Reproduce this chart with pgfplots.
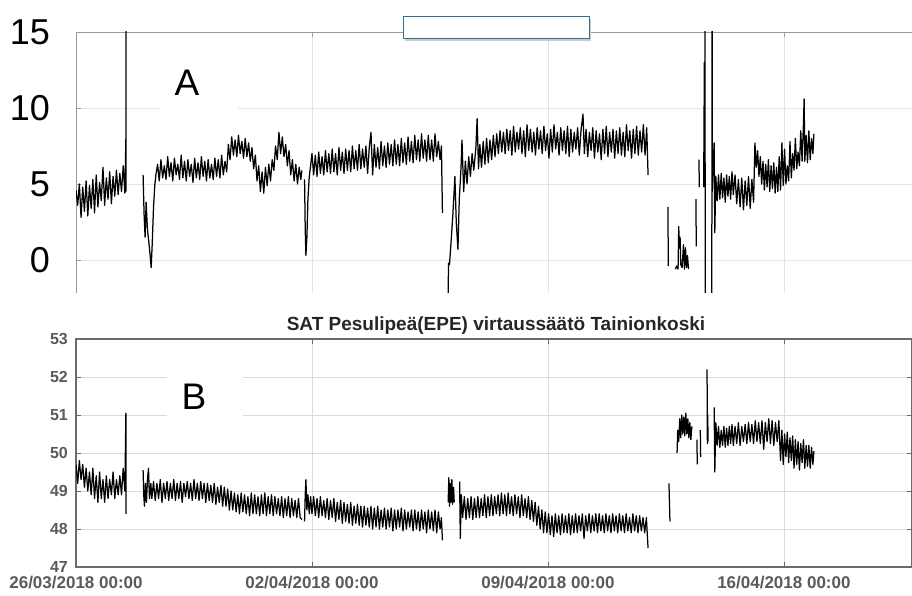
\documentclass[border=0pt]{standalone}
\usepackage{fontspec}
\setmainfont{Liberation Sans}
\usepackage{pgfplots}
\pgfplotsset{compat=1.18}
\definecolor{tickgray}{HTML}{5A5A5A}
\definecolor{gridA}{HTML}{E4E4E4}
\definecolor{gridB}{HTML}{DADADA}
\definecolor{frameB}{HTML}{6A6A6A}
\definecolor{frameA}{HTML}{9A9A9A}
\definecolor{boxblue}{HTML}{2F6F8F}
\pgfplotsset{data/.style={black, line width=1.25pt, mark=none, line join=round}}
\begin{document}
\begin{tikzpicture}
\path[use as bounding box] (0pt,0pt) rectangle (912pt,595pt);
% ---------------- Panel A ----------------
\begin{axis}[
 at={(76pt,302pt)}, anchor=south west, scale only axis, width=836pt, height=261pt,
 xmin=0, xmax=24.8, ymin=-2.17, ymax=15,
 axis x line*=top, axis y line*=left,
 axis line style={draw=frameA, line width=0.8pt, -},
 xtick={7,14,21}, xticklabels={},
 ytick={0,5,10,15},
 grid=major, major grid style={draw=gridA, line width=0.7pt},
 tick align=inside, major tick length=5pt, tick style={draw=frameA, line width=0.6pt},
 /pgf/number format/assume math mode=true,
 yticklabel style={font=\fontsize{36}{40}\selectfont, text=black, inner sep=0pt, xshift=-26pt},
]
\addplot[data] coordinates {(0.00,4.6)(0.05,3.6)(0.10,5.0)(0.15,2.8)(0.20,4.8)(0.25,3.2)(0.30,5.2)(0.35,2.9)(0.40,4.9)(0.45,3.4)(0.50,5.3)(0.55,3.1)(0.60,5.6)(0.65,3.5)(0.70,5.1)(0.75,3.9)(0.80,6.1)(0.85,3.6)(0.90,5.4)(0.95,4.0)(1.00,5.8)(1.05,3.7)(1.10,5.5)(1.15,4.2)(1.20,5.9)(1.25,4.3)(1.30,5.7)(1.35,4.5)(1.40,6.2)(1.45,4.4)(1.48,8.0)(1.48,16)(1.485,4.5)};
\addplot[data] coordinates {(1.99,5.6)(2.02,3.0)(2.05,1.5)(2.08,3.8)(2.12,2.0)(2.16,1.2)(2.20,0.3)(2.23,-0.5)(2.26,1.0)(2.30,3.5)(2.34,5.0)(2.37,5.6)
(2.42,6.3)(2.47,5.2)(2.52,6.6)(2.57,5.4)(2.62,6.2)(2.67,5.3)(2.72,6.8)(2.77,5.5)(2.82,6.4)(2.87,5.2)(2.92,6.7)(2.97,5.6)(3.02,6.3)(3.07,5.3)(3.12,6.9)(3.17,5.4)(3.22,6.5)(3.27,5.2)(3.32,6.6)(3.37,5.5)(3.42,6.3)(3.47,5.1)(3.52,6.7)(3.57,5.4)(3.62,6.4)(3.67,5.3)(3.72,6.8)(3.77,5.5)(3.82,6.5)(3.87,5.2)(3.92,6.6)(3.97,5.4)(4.02,6.3)(4.07,5.3)(4.12,6.7)(4.17,5.5)(4.22,6.6)(4.27,5.4)(4.32,6.9)(4.37,5.6)(4.42,6.5)(4.47,5.8)
(4.52,7.6)(4.57,6.6)(4.62,8.1)(4.67,6.9)(4.72,7.9)(4.77,6.8)(4.82,8.2)(4.87,7.0)(4.92,7.8)(4.97,6.7)(5.02,8.0)(5.07,6.8)(5.12,7.7)(5.17,6.5)(5.22,7.4)
(5.27,6.0)(5.32,6.9)(5.37,5.2)(5.42,6.2)(5.47,4.5)(5.52,5.8)(5.57,4.4)(5.62,6.1)(5.67,4.9)(5.72,6.3)(5.77,5.2)(5.82,6.6)
(5.87,5.9)(5.92,7.5)(5.97,6.6)(6.02,8.4)(6.07,7.0)(6.12,8.1)(6.17,6.8)(6.22,7.6)(6.27,6.2)(6.32,7.2)(6.37,5.6)(6.42,6.6)(6.47,5.2)(6.52,6.3)(6.57,5.0)(6.62,6.1)(6.67,5.3)(6.70,5.9)};
\addplot[data] coordinates {(6.78,5.3)(6.80,2.0)(6.82,0.3)(6.85,1.5)(6.88,4.0)(6.92,5.5)(6.96,6.2)
(7.00,7.0)(7.05,5.6)(7.10,6.9)(7.15,5.5)(7.20,7.1)(7.25,5.7)(7.30,6.8)(7.35,5.6)(7.40,7.2)(7.45,5.8)(7.50,7.0)(7.55,5.7)(7.60,7.3)(7.65,5.8)(7.70,7.0)(7.75,5.6)(7.80,7.4)(7.85,5.9)(7.90,7.1)(7.95,5.7)(8.00,7.3)(8.05,5.9)
(8.10,7.2)(8.15,5.8)(8.20,7.5)(8.25,6.0)(8.30,7.2)(8.35,5.9)(8.40,7.6)(8.45,6.0)(8.50,7.3)(8.55,6.1)(8.60,7.5)(8.65,5.7)(8.70,7.4)(8.75,8.4)(8.80,5.6)(8.85,7.6)(8.90,6.1)(8.95,7.4)(9.00,6.0)(9.05,7.8)(9.10,6.2)(9.15,7.5)(9.20,6.1)(9.25,7.7)(9.30,6.3)(9.35,7.6)(9.40,6.2)(9.45,7.9)(9.50,6.3)(9.55,7.6)(9.60,6.2)(9.65,8.0)(9.70,6.4)(9.75,7.7)(9.80,6.3)(9.85,8.1)(9.90,6.5)(9.95,7.8)(10.00,6.4)(10.05,8.2)(10.10,6.6)(10.15,7.9)(10.20,6.5)(10.25,8.3)(10.30,6.7)(10.35,7.9)(10.40,6.5)(10.45,8.2)(10.50,6.6)(10.55,7.9)(10.60,6.5)(10.65,8.3)(10.70,6.8)(10.75,7.8)(10.80,6.6)(10.84,7.5)(10.87,3.1)};
\addplot[data] coordinates {(11.04,-2.5)(11.05,-0.2)(11.08,-0.3)(11.12,1.0)(11.18,3.0)(11.24,5.5)(11.28,2.5)(11.33,0.7)(11.37,4.0)(11.42,6.0)(11.45,7.9)(11.50,4.5)(11.55,6.5)(11.60,5.0)(11.65,6.8)(11.70,5.5)(11.75,7.0)(11.80,5.9)(11.86,7.3)(11.90,9.3)(11.94,6.0)
(11.98,7.6)(12.03,6.1)(12.08,7.8)(12.13,6.3)(12.18,8.0)(12.23,6.4)(12.28,7.9)(12.33,6.6)(12.38,8.2)(12.43,6.8)(12.48,8.3)(12.53,7.0)(12.58,8.5)(12.63,7.1)(12.68,8.4)
(12.73,7.0)(12.78,8.6)(12.83,7.2)(12.88,8.5)(12.93,6.9)(12.98,8.8)(13.03,7.1)(13.08,8.4)(13.13,7.3)(13.18,8.7)(13.23,7.0)(13.28,8.5)(13.33,6.8)(13.38,8.9)(13.43,7.2)(13.48,8.6)(13.53,7.1)(13.58,8.4)(13.63,6.9)(13.68,8.7)(13.73,7.3)(13.78,8.5)(13.83,7.0)(13.88,8.8)(13.93,7.2)(13.98,8.3)(14.03,6.7)(14.08,8.6)(14.13,7.1)(14.18,8.9)(14.23,7.3)(14.28,8.4)(14.33,6.9)(14.38,8.7)(14.43,7.2)(14.48,8.5)(14.53,7.0)(14.58,8.8)(14.63,6.8)(14.68,8.6)(14.73,7.1)(14.78,8.4)(14.83,7.3)(14.88,8.7)(14.93,6.9)(14.98,8.5)(15.04,9.6)(15.08,7.0)(15.13,8.6)(15.18,6.8)(15.23,8.4)(15.28,7.2)(15.33,8.7)(15.38,6.7)(15.43,8.5)(15.48,7.1)(15.53,8.3)(15.58,6.6)(15.63,8.6)(15.68,7.0)(15.73,8.8)(15.78,6.8)(15.83,8.4)(15.88,7.1)(15.93,8.6)(15.98,6.7)(16.03,8.5)(16.08,7.0)(16.13,8.7)(16.18,6.9)(16.23,8.4)(16.28,6.8)(16.33,8.9)(16.38,7.2)(16.43,8.5)(16.48,6.7)(16.53,8.6)(16.58,7.0)(16.63,8.8)(16.68,6.9)(16.73,8.5)(16.78,7.1)(16.83,8.9)(16.88,6.9)(16.93,8.7)(16.97,5.6)};
\addplot[data] coordinates {(17.56,3.5)(17.57,-0.4)};
\addplot[data] coordinates {(17.78,-0.6)(17.82,-0.4)(17.86,-0.6)(17.88,2.2)(17.90,0.8)(17.92,1.5)(17.94,-0.3)(17.98,-0.5)(18.02,1.0)(18.05,-0.6)(18.08,0.8)(18.11,-0.5)(18.14,0.3)(18.17,-0.6)};
\addplot[data] coordinates {(18.39,4.0)(18.40,0.9)};
\addplot[data] coordinates {(18.48,6.6)(18.49,4.8)};
\addplot[data] coordinates {(18.62,4.8)(18.64,13.0)(18.65,5.0)(18.66,20)(18.665,-5)};
\addplot[data] coordinates {(18.86,-5)(18.87,20)(18.875,4.5)(18.93,7.7)(18.95,1.8)(18.98,5.5)(19.02,3.9)(19.06,5.6)(19.10,4.0)(19.14,5.7)(19.18,4.1)(19.22,5.4)(19.26,3.8)(19.30,5.6)(19.34,4.2)(19.38,5.5)(19.42,4.0)(19.46,5.8)(19.50,4.3)(19.55,5.6)(19.60,3.7)(19.65,5.3)(19.70,3.5)(19.75,5.4)(19.80,3.3)(19.85,5.2)(19.90,3.6)(19.95,5.5)(20.00,3.4)(20.05,5.3)(20.10,3.8)(20.14,7.7)(20.18,6.1)(20.22,7.2)(20.26,5.5)(20.30,6.8)(20.34,5.0)(20.38,6.5)(20.42,4.6)(20.46,6.3)(20.50,4.8)(20.54,6.6)(20.58,4.5)(20.62,6.2)(20.66,4.7)(20.70,6.4)(20.74,4.4)(20.78,6.1)(20.82,4.5)(20.86,6.8)(20.90,4.6)(20.94,7.7)(20.98,4.9)(21.02,7.3)(21.06,5.0)(21.10,6.2)(21.14,5.2)(21.18,7.8)(21.22,5.4)(21.26,7.0)(21.30,5.9)(21.34,8.0)(21.38,6.0)(21.42,7.1)(21.46,6.2)(21.50,8.5)(21.54,6.5)(21.58,9.0)(21.60,10.6)(21.62,6.5)(21.66,8.2)(21.70,6.4)(21.74,8.5)(21.78,6.6)(21.82,8.0)(21.86,7.0)(21.89,8.3)};
\end{axis}
% ---------------- Panel B ----------------
\begin{axis}[
 at={(76pt,28pt)}, anchor=south west, scale only axis, width=836pt, height=228pt,
 xmin=0, xmax=24.8, ymin=47, ymax=53,
 axis line style={draw=frameB, line width=1.2pt},
 xtick={0,7,14,21},
 xticklabels={26/03/2018 00:00,02/04/2018 00:00,09/04/2018 00:00,16/04/2018 00:00},
 ytick={47,48,49,50,51,52,53},
 grid=major, major grid style={draw=gridB, line width=0.7pt},
 tick align=inside, major tick length=5pt, tick style={draw=frameB, line width=0.7pt},
 /pgf/number format/assume math mode=true,
 yticklabel style={font=\bfseries\fontsize{16}{18}\selectfont, text=tickgray, inner sep=0pt, xshift=-8pt},
 xticklabel style={font=\bfseries\fontsize{17}{19}\selectfont, text=tickgray, inner sep=0pt, yshift=-9pt},
]
\addplot[data] coordinates {(0.00,49.7)(0.05,49.2)(0.10,49.8)(0.15,49.3)(0.20,49.7)(0.25,49.1)(0.30,49.6)(0.35,49.0)(0.40,49.5)(0.45,48.9)(0.50,49.6)(0.55,48.8)(0.60,49.4)(0.65,48.7)(0.70,49.5)(0.75,48.8)(0.80,49.3)(0.85,48.7)(0.90,49.4)(0.95,48.8)(1.00,49.3)(1.05,48.9)(1.10,49.5)(1.15,48.8)(1.20,49.3)(1.25,48.9)(1.30,49.4)(1.35,48.9)(1.40,49.6)(1.45,49.0)(1.48,51.05)(1.485,48.4)};
\addplot[data] coordinates {(1.99,49.55)(2.01,48.9)(2.03,48.6)(2.06,49.2)(2.09,48.7)(2.12,49.3)(2.15,49.6)(2.18,48.8)(2.22,49.2)
(2.25,48.8)(2.30,49.25)(2.35,48.75)(2.40,49.2)(2.45,48.8)(2.50,49.3)(2.55,48.7)(2.60,49.2)(2.65,48.8)(2.70,49.25)(2.75,48.75)(2.80,49.2)(2.85,48.8)(2.90,49.3)(2.95,48.75)(3.00,49.2)(3.05,48.8)(3.10,49.25)(3.15,48.7)(3.20,49.2)(3.25,48.85)(3.30,49.25)(3.35,48.8)(3.40,49.2)(3.45,48.75)(3.50,49.3)(3.55,48.8)(3.60,49.2)(3.65,48.75)(3.70,49.25)(3.75,48.8)(3.80,49.2)(3.85,48.7)(3.90,49.2)(3.95,48.75)(4.00,49.15)(4.05,48.7)(4.10,49.2)(4.15,48.65)(4.20,49.1)(4.25,48.7)(4.30,49.15)(4.35,48.6)(4.40,49.1)(4.45,48.6)(4.50,49.05)
(4.55,48.5)(4.60,49.0)(4.65,48.5)(4.70,48.95)(4.75,48.45)(4.80,48.9)(4.85,48.4)(4.90,48.95)(4.95,48.45)(5.00,48.9)(5.05,48.4)(5.10,48.85)(5.15,48.35)(5.20,48.95)(5.25,48.4)(5.30,48.9)(5.35,48.4)(5.40,48.85)(5.45,48.35)(5.50,48.9)(5.55,48.4)(5.60,48.95)(5.65,48.35)(5.70,48.85)(5.75,48.4)(5.80,48.9)(5.85,48.35)(5.90,48.85)(5.95,48.4)(6.00,48.8)(6.05,48.35)(6.10,48.85)(6.15,48.3)(6.20,48.8)(6.25,48.35)(6.30,48.85)(6.35,48.3)(6.40,48.8)(6.45,48.35)(6.50,48.75)(6.55,48.3)(6.60,48.8)(6.65,48.3)(6.70,48.25)};
\addplot[data] coordinates {(6.78,48.2)(6.80,48.9)(6.82,49.3)(6.85,48.5)(6.88,48.9)(6.92,48.4)(6.96,48.85)
(7.00,48.4)(7.05,48.85)(7.10,48.35)(7.15,48.8)(7.20,48.3)(7.25,48.85)(7.30,48.35)(7.35,48.75)(7.40,48.3)(7.45,48.8)(7.50,48.25)(7.55,48.75)(7.60,48.3)(7.65,48.8)(7.70,48.2)(7.75,48.7)(7.80,48.25)(7.85,48.75)(7.90,48.15)(7.95,48.7)(8.00,48.2)(8.05,48.65)(8.10,48.15)(8.15,48.7)(8.20,48.1)(8.25,48.6)(8.30,48.15)(8.35,48.65)(8.40,48.1)(8.45,48.6)(8.50,48.05)(8.55,48.6)(8.60,48.1)(8.65,48.55)(8.70,48.05)(8.75,48.6)(8.80,48.0)(8.85,48.55)(8.90,48.05)(8.95,48.6)(9.00,48.0)(9.05,48.5)(9.10,48.05)(9.15,48.55)(9.20,48.0)(9.25,48.5)(9.30,48.05)(9.35,48.55)(9.40,47.95)(9.45,48.5)(9.50,48.0)(9.55,48.5)(9.60,48.05)(9.65,48.55)(9.70,47.95)(9.75,48.5)(9.80,48.0)(9.85,48.45)(9.90,48.05)(9.95,48.5)(10.00,47.95)(10.05,48.5)(10.10,48.0)(10.15,48.45)(10.20,47.95)(10.25,48.5)(10.30,48.0)(10.35,48.45)(10.40,47.9)(10.45,48.5)(10.50,48.0)(10.55,48.45)(10.60,47.95)(10.65,48.5)(10.70,47.9)(10.75,48.45)(10.80,48.0)(10.84,48.3)(10.87,47.7)};
\addplot[data] coordinates {(11.04,48.7)(11.06,49.35)(11.08,48.6)(11.10,49.2)(11.12,48.7)(11.15,49.3)(11.17,48.65)(11.20,49.1)(11.22,48.7)};
\addplot[data] coordinates {(11.38,49.25)(11.40,47.75)(11.43,48.9)(11.47,48.3)(11.52,48.85)(11.57,48.25)(11.62,48.8)(11.67,48.3)(11.72,48.85)(11.77,48.25)(11.82,48.8)(11.87,48.3)(11.92,48.85)(11.97,48.3)(12.02,48.8)(12.07,48.35)(12.12,48.9)(12.17,48.3)(12.22,48.85)(12.27,48.35)(12.32,48.9)(12.37,48.35)(12.42,48.85)(12.47,48.4)(12.52,48.9)(12.57,48.35)(12.62,48.95)(12.67,48.4)(12.72,48.9)(12.77,48.35)(12.82,48.95)(12.87,48.4)(12.92,48.85)(12.97,48.35)(13.02,48.9)(13.07,48.4)(13.12,48.85)(13.17,48.3)(13.22,48.9)(13.27,48.35)(13.32,48.8)(13.37,48.3)(13.42,48.85)(13.47,48.25)(13.52,48.75)(13.57,48.2)(13.62,48.7)(13.67,48.1)(13.72,48.6)(13.77,48.0)(13.82,48.5)(13.87,47.9)(13.92,48.45)(13.97,47.9)(14.02,48.4)(14.07,47.85)(14.12,48.35)(14.17,47.8)(14.22,48.4)(14.27,47.9)(14.32,48.35)(14.37,47.85)(14.42,48.4)(14.47,47.9)(14.52,48.35)(14.57,47.9)(14.62,48.4)(14.67,47.85)(14.72,48.35)(14.77,47.9)(14.82,48.4)(14.87,47.9)(14.92,48.35)(14.97,47.95)(15.02,48.4)(15.07,47.75)(15.12,48.35)(15.17,47.95)(15.22,48.4)(15.27,47.9)(15.32,48.35)(15.37,47.95)(15.42,48.4)(15.47,47.9)(15.52,48.4)(15.57,47.95)(15.62,48.35)(15.67,47.9)(15.72,48.4)(15.77,47.95)(15.82,48.35)(15.87,47.9)(15.92,48.4)(15.97,47.95)(16.02,48.35)(16.07,47.9)(16.12,48.4)(16.17,47.95)(16.22,48.35)(16.27,47.9)(16.32,48.4)(16.37,47.95)(16.42,48.3)(16.47,47.9)(16.52,48.4)(16.57,47.95)(16.62,48.35)(16.67,47.9)(16.72,48.35)(16.77,47.95)(16.82,48.3)(16.87,47.9)(16.92,48.3)(16.97,47.5)};
\addplot[data] coordinates {(17.59,49.2)(17.62,48.2)};
\addplot[data] coordinates {(17.83,50.0)(17.85,50.6)(17.88,50.3)(17.91,50.9)(17.94,50.4)(17.97,51.0)(18.00,50.5)(18.03,50.95)(18.06,50.45)(18.09,51.05)(18.12,50.5)(18.15,50.9)(18.18,50.4)(18.21,50.8)(18.24,50.35)(18.27,50.7)};
\addplot[data] coordinates {(18.42,50.35)(18.43,49.7)};
\addplot[data] coordinates {(18.52,50.6)(18.53,49.9)};
\addplot[data] coordinates {(18.72,52.2)(18.73,50.25)(18.74,51.0)(18.75,50.3)};
\addplot[data] coordinates {(18.93,51.2)(18.95,49.5)(18.98,50.8)(19.02,50.2)(19.06,50.7)(19.10,50.15)(19.14,50.6)(19.18,50.2)(19.22,50.7)(19.26,50.15)(19.30,50.65)(19.34,50.2)(19.38,50.7)(19.42,50.25)(19.46,50.75)(19.50,50.2)(19.55,50.7)(19.60,50.25)(19.65,50.8)(19.70,50.2)(19.75,50.7)(19.80,50.3)(19.85,50.75)(19.90,50.25)(19.95,50.8)(20.00,50.3)(20.05,50.75)(20.10,50.25)(20.15,50.85)(20.20,50.3)(20.25,50.8)(20.30,50.25)(20.35,50.85)(20.40,50.1)(20.45,50.8)(20.50,50.3)(20.55,50.9)(20.60,50.25)(20.65,50.85)(20.70,50.2)(20.75,50.8)(20.80,50.3)(20.85,50.85)(20.90,49.8)(20.94,50.6)(20.98,49.7)(21.02,50.5)(21.06,49.9)(21.10,50.55)(21.14,49.75)(21.18,50.4)(21.22,49.8)(21.26,50.45)(21.30,49.6)(21.34,50.35)(21.38,49.7)(21.42,50.3)(21.46,49.55)(21.50,50.25)(21.54,49.75)(21.58,50.35)(21.62,49.6)(21.66,50.2)(21.70,49.65)(21.74,50.2)(21.78,49.6)(21.82,50.15)(21.86,49.7)(21.89,50.05)};
\end{axis}
% ---------------- decorations ----------------
\fill[white] (160pt,483pt) rectangle (238pt,537pt);
\node[font=\fontsize{37}{40}\selectfont, inner sep=0pt] at (187pt,512pt) {A};
\fill[white] (167pt,175pt) rectangle (243pt,225pt);
\node[font=\fontsize{37}{40}\selectfont, inner sep=0pt] at (194pt,198pt) {B};
\fill[gray!40] (405pt,554pt) rectangle (591pt,576pt);
\filldraw[fill=white, draw=boxblue, line width=1pt] (403pt,556pt) rectangle (589pt,578pt);
\node[font=\bfseries\fontsize{19}{21}\selectfont, text=black!85, inner sep=0pt] at (496pt,269pt) {SAT Pesulipeä(EPE) virtaussäätö Tainionkoski};
\end{tikzpicture}
\end{document}
